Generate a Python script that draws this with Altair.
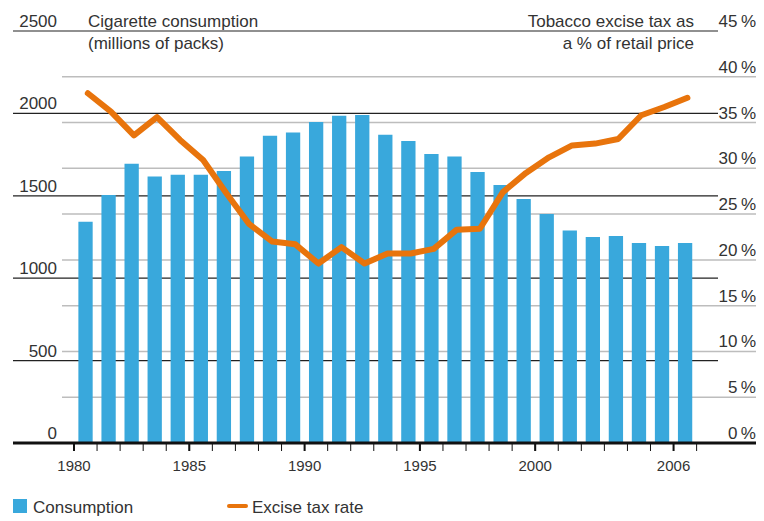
import altair as alt
import pandas as pd

# ---------------- data ----------------
years = list(range(1980, 2007))
consumption = [1343, 1505, 1694, 1617, 1627, 1627, 1651, 1738, 1864, 1884,
               1948, 1985, 1991, 1870, 1833, 1754, 1738, 1645, 1566, 1481,
               1390, 1289, 1250, 1256, 1214, 1196, 1214]
tax_rate = [38.2, 36.2, 33.6, 35.6, 33.1, 30.9, 27.3, 23.9, 22.0, 21.7,
            19.6, 21.4, 19.6, 20.7, 20.7, 21.2, 23.3, 23.4, 27.4, 29.5,
            31.2, 32.5, 32.7, 33.2, 35.8, 36.7, 37.7]

left_ticks = [0, 500, 1000, 1500, 2000, 2500]
left_labels = ["0", "500", "1000", "1500", "2000", "2500"]
right_ticks = [0, 5, 10, 15, 20, 25, 30, 35, 40, 45]
right_labels = [f"{v}\u2009%" for v in right_ticks]
right_grid = [5, 10, 15, 20, 25, 30, 35, 40]
tick_years = list(range(1980, 2008))
label_years = [1980, 1985, 1990, 1995, 2000, 2006]

left_title = ["Cigarette consumption", "(millions of packs)"]
right_title = ["Tobacco excise tax as", "a % of retail price"]
legend_labels = ["Consumption", "Excise tax rate"]

FONT = "Liberation Sans"
TXT = "#333333"
BLUE = "#39a8dc"
ORANGE = "#e8740c"

W = 743
H = 412

df = pd.DataFrame({"year": years, "consumption": consumption, "tax": tax_rate})

xs = alt.Scale(domain=[1977.355, 2009.575], nice=False, zero=False)
ysL = alt.Scale(domain=[0, 2500], nice=False)
ysR = alt.Scale(domain=[0, 45], nice=False)

dark = alt.Chart(pd.DataFrame({"v": left_ticks})).mark_rule(
    color="#222222", strokeWidth=1.2
).encode(y=alt.Y("v:Q", scale=ysL, axis=None), x=alt.value(0), x2=alt.value(705))

gray = alt.Chart(pd.DataFrame({"v": right_grid})).mark_rule(
    color="#bdbdbd", strokeWidth=1.5
).encode(y=alt.Y("v:Q", scale=ysR, axis=None), x=alt.value(49), x2=alt.value(W))

bars = alt.Chart(df).transform_calculate(
    x0="datum.year + 0.19", x1="datum.year + 0.81"
).mark_bar(color=BLUE).encode(
    x=alt.X("x0:Q", scale=xs, axis=None),
    x2="x1:Q",
    y=alt.Y("consumption:Q", scale=ysL, axis=None),
    y2=alt.datum(0),
)

line = alt.Chart(df).transform_calculate(xc="datum.year + 0.6").mark_line(
    color=ORANGE, strokeWidth=6, strokeCap="round", strokeJoin="round"
).encode(
    x=alt.X("xc:Q", scale=xs, axis=None),
    y=alt.Y("tax:Q", scale=ysR, axis=None),
)

baseline = alt.Chart(pd.DataFrame({"v": [0]})).mark_rule(
    color="#111111", strokeWidth=3
).encode(y=alt.Y("v:Q", scale=ysL, axis=None), x=alt.value(0), x2=alt.value(W))

ticks = alt.Chart(pd.DataFrame({"year": tick_years})).mark_rule(
    color="#111111", strokeWidth=1
).encode(x=alt.X("year:Q", scale=xs, axis=None), y=alt.value(413), y2=alt.value(420))

major = alt.Chart(pd.DataFrame({"year": label_years})).mark_rule(
    color="#111111", strokeWidth=2
).encode(x=alt.X("year:Q", scale=xs, axis=None), y=alt.value(413), y2=alt.value(420))

xlabels = alt.Chart(
    pd.DataFrame({"year": label_years, "lab": [str(y) for y in label_years]})
).mark_text(font=FONT, fontSize=15, color=TXT, baseline="alphabetic", align="center").encode(
    x=alt.X("year:Q", scale=xs, axis=None), y=alt.value(440), text="lab:N"
)

llabels = alt.Chart(pd.DataFrame({"v": left_ticks, "lab": left_labels})).mark_text(
    font=FONT, fontSize=17, color=TXT, baseline="alphabetic", align="right", dy=-4
).encode(y=alt.Y("v:Q", scale=ysL, axis=None), x=alt.value(44), text="lab:N")

rlabels = alt.Chart(pd.DataFrame({"v": right_ticks, "lab": right_labels})).mark_text(
    font=FONT, fontSize=17, color=TXT, baseline="alphabetic", align="right", dy=-4
).encode(y=alt.Y("v:Q", scale=ysR, axis=None), x=alt.value(W), text="lab:N")


def text_layer(t, x, y, align="left"):
    return alt.Chart(pd.DataFrame({"t": [t]})).mark_text(
        font=FONT, fontSize=17, color=TXT, baseline="alphabetic", align=align
    ).encode(x=alt.value(x), y=alt.value(y), text="t:N")


titles = [
    text_layer(left_title[0], 75, -4),
    text_layer(left_title[1], 75, 18),
    text_layer(right_title[0], 681, -4, "right"),
    text_layer(right_title[1], 681, 18, "right"),
    text_layer(legend_labels[0], 20, 482),
    text_layer(legend_labels[1], 239, 482),
]

leg_box = alt.Chart(pd.DataFrame({"k": [legend_labels[0]]})).mark_rect(color=BLUE).encode(
    x=alt.value(0), x2=alt.value(14), y=alt.value(468), y2=alt.value(482)
)
leg_line = alt.Chart(pd.DataFrame({"k": [legend_labels[1]]})).mark_rule(
    color=ORANGE, strokeWidth=4, strokeCap="round"
).encode(x=alt.value(216), x2=alt.value(233), y=alt.value(475))

chart = alt.layer(
    gray, dark, bars, baseline, ticks, major, line, xlabels, llabels, rlabels,
    *titles, leg_box, leg_line
).resolve_scale(y="independent").properties(
    width=W,
    height=H,
    padding={"left": 5, "top": 23, "right": 0, "bottom": 75},
    autosize="none",
).configure_view(strokeWidth=0)

chart.save("out.html", embed_options={"renderer": "svg", "actions": False})
